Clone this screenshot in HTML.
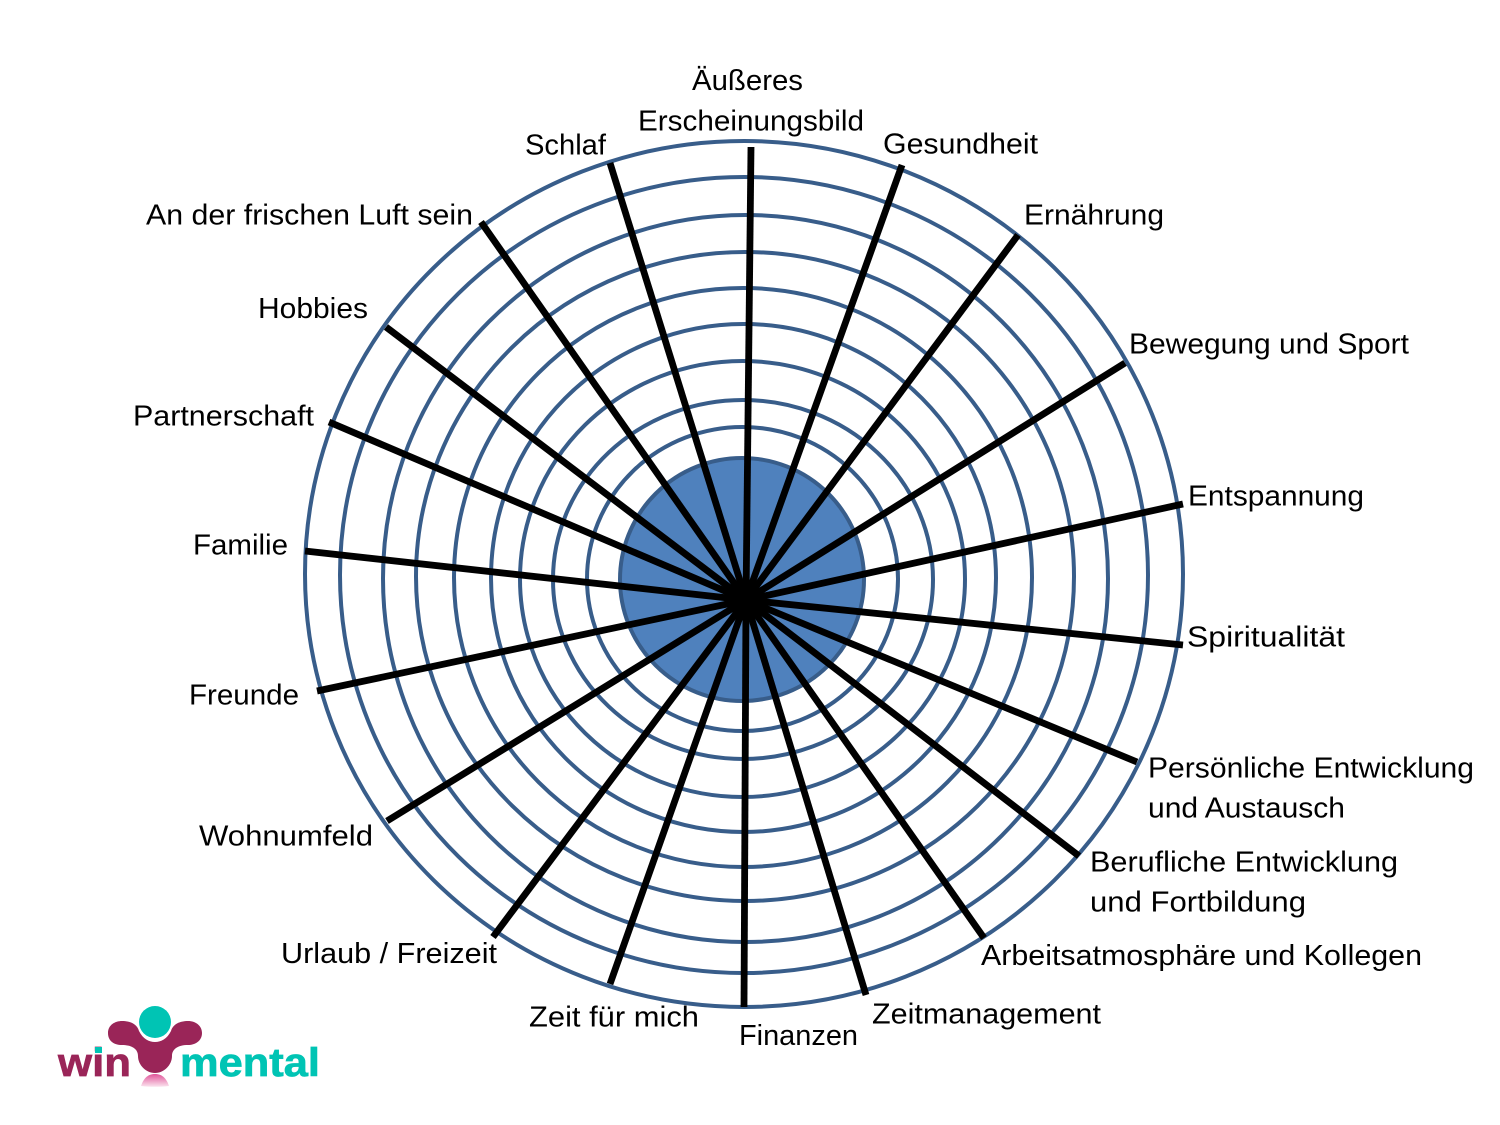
<!DOCTYPE html>
<html><head><meta charset="utf-8"><style>html,body{margin:0;padding:0;background:#fff}svg{display:block}
.t text{font-family:"Liberation Sans",sans-serif;font-size:29px;fill:#000}</style></head><body>
<svg width="1500" height="1125" viewBox="0 0 1500 1125" xmlns="http://www.w3.org/2000/svg">
<defs><linearGradient id="r" x1="0" y1="0" x2="0" y2="1"><stop offset="0" stop-color="#e0559a"/><stop offset="1" stop-color="#fbe3ee"/></linearGradient></defs>
<g fill="none" stroke="#385d8a" stroke-width="4">
<ellipse cx="744" cy="574" rx="439" ry="433"/>
<ellipse cx="744" cy="575" rx="404" ry="398"/>
<ellipse cx="745.5" cy="578.5" rx="362.5" ry="363.5"/>
<ellipse cx="745" cy="576.5" rx="329" ry="324.5"/>
<ellipse cx="743" cy="577.5" rx="289" ry="289.5"/>
<ellipse cx="743.5" cy="578" rx="252.5" ry="254"/>
<ellipse cx="742.5" cy="579" rx="222.5" ry="218"/>
<ellipse cx="743" cy="579.5" rx="190" ry="179.5"/>
<ellipse cx="742.5" cy="579" rx="155.5" ry="152"/>
<ellipse cx="742" cy="579.5" rx="122" ry="121.5" fill="#4f81bd"/>
</g>
<g stroke="#000" stroke-width="6.8">
<line x1="746" y1="600" x2="751" y2="147"/>
<line x1="746" y1="600" x2="902" y2="165"/>
<line x1="746" y1="600" x2="1018" y2="235"/>
<line x1="746" y1="600" x2="1125" y2="363"/>
<line x1="746" y1="600" x2="1183" y2="504"/>
<line x1="746" y1="600" x2="1183" y2="645"/>
<line x1="746" y1="600" x2="1137" y2="762"/>
<line x1="746" y1="600" x2="1079" y2="856"/>
<line x1="746" y1="600" x2="984" y2="938"/>
<line x1="746" y1="600" x2="866" y2="995"/>
<line x1="746" y1="600" x2="744" y2="1007"/>
<line x1="746" y1="600" x2="610" y2="984"/>
<line x1="746" y1="600" x2="493" y2="937"/>
<line x1="746" y1="600" x2="387" y2="821"/>
<line x1="746" y1="600" x2="317" y2="691"/>
<line x1="746" y1="600" x2="305" y2="551"/>
<line x1="746" y1="600" x2="329" y2="422"/>
<line x1="746" y1="600" x2="386" y2="327"/>
<line x1="746" y1="600" x2="481" y2="222"/>
<line x1="746" y1="600" x2="610" y2="163"/>
</g>
<g class="t">
<text x="692" y="90" textLength="111" lengthAdjust="spacingAndGlyphs">Äußeres</text>
<text x="638" y="130.5" textLength="226" lengthAdjust="spacingAndGlyphs">Erscheinungsbild</text>
<text x="525" y="154.5" textLength="81" lengthAdjust="spacingAndGlyphs">Schlaf</text>
<text x="883" y="153.5" textLength="155" lengthAdjust="spacingAndGlyphs">Gesundheit</text>
<text x="1024" y="224.5" textLength="140" lengthAdjust="spacingAndGlyphs">Ernährung</text>
<text x="146" y="224.5" textLength="327" lengthAdjust="spacingAndGlyphs">An der frischen Luft sein</text>
<text x="1129" y="353.5" textLength="280" lengthAdjust="spacingAndGlyphs">Bewegung und Sport</text>
<text x="258" y="318" textLength="110" lengthAdjust="spacingAndGlyphs">Hobbies</text>
<text x="133" y="425.5" textLength="181" lengthAdjust="spacingAndGlyphs">Partnerschaft</text>
<text x="1188" y="505.5" textLength="176" lengthAdjust="spacingAndGlyphs">Entspannung</text>
<text x="193" y="554.5" textLength="95" lengthAdjust="spacingAndGlyphs">Familie</text>
<text x="1187" y="646.5" textLength="158" lengthAdjust="spacingAndGlyphs">Spiritualität</text>
<text x="189" y="704.5" textLength="110" lengthAdjust="spacingAndGlyphs">Freunde</text>
<text x="1148" y="777.5" textLength="326" lengthAdjust="spacingAndGlyphs">Persönliche Entwicklung</text>
<text x="1148" y="817.5" textLength="197" lengthAdjust="spacingAndGlyphs">und Austausch</text>
<text x="199" y="845.5" textLength="174" lengthAdjust="spacingAndGlyphs">Wohnumfeld</text>
<text x="1090" y="871.5" textLength="308" lengthAdjust="spacingAndGlyphs">Berufliche Entwicklung</text>
<text x="1090" y="911.5" textLength="216" lengthAdjust="spacingAndGlyphs">und Fortbildung</text>
<text x="981" y="965" textLength="441" lengthAdjust="spacingAndGlyphs">Arbeitsatmosphäre und Kollegen</text>
<text x="281" y="963" textLength="216" lengthAdjust="spacingAndGlyphs">Urlaub / Freizeit</text>
<text x="872" y="1023.5" textLength="229" lengthAdjust="spacingAndGlyphs">Zeitmanagement</text>
<text x="529" y="1026.5" textLength="170" lengthAdjust="spacingAndGlyphs">Zeit für mich</text>
<text x="739" y="1045" textLength="119" lengthAdjust="spacingAndGlyphs">Finanzen</text>
</g>
<circle cx="155" cy="1022" r="16" fill="#00c4b4"/>
<path d="M108 1033C108 1025 115 1021 122 1021C130 1021 137 1024 139 1031C143 1039 149 1042 155 1042C161 1042 167 1039 171 1031C173 1024 180 1021 188 1021C196 1021 202 1026 202 1033C202 1041 195 1045 188 1045C178 1045 172 1049 172 1056C172 1065 164 1073 155 1073C146 1073 138 1065 138 1056C138 1049 132 1045 122 1045C114 1045 108 1041 108 1033Z" fill="#9a2558"/>
<path d="M141 1086C144 1077 149 1074 155 1074C161 1074 166 1077 169 1086C160 1087 150 1087 141 1086Z" fill="url(#r)"/>
<text x="58" y="1076" textLength="73" lengthAdjust="spacingAndGlyphs" font-family="'Liberation Sans',sans-serif" font-weight="bold" font-size="40" fill="#9a2558" stroke="#9a2558" stroke-width=".7">win</text>
<text x="180" y="1076" textLength="140" lengthAdjust="spacingAndGlyphs" font-family="'Liberation Sans',sans-serif" font-weight="bold" font-size="40" fill="#00c4b4" stroke="#00c4b4" stroke-width=".7">mental</text>
<rect x="95" y="1047" width="7" height="6" fill="#00c4b4"/>
</svg>
</body></html>
